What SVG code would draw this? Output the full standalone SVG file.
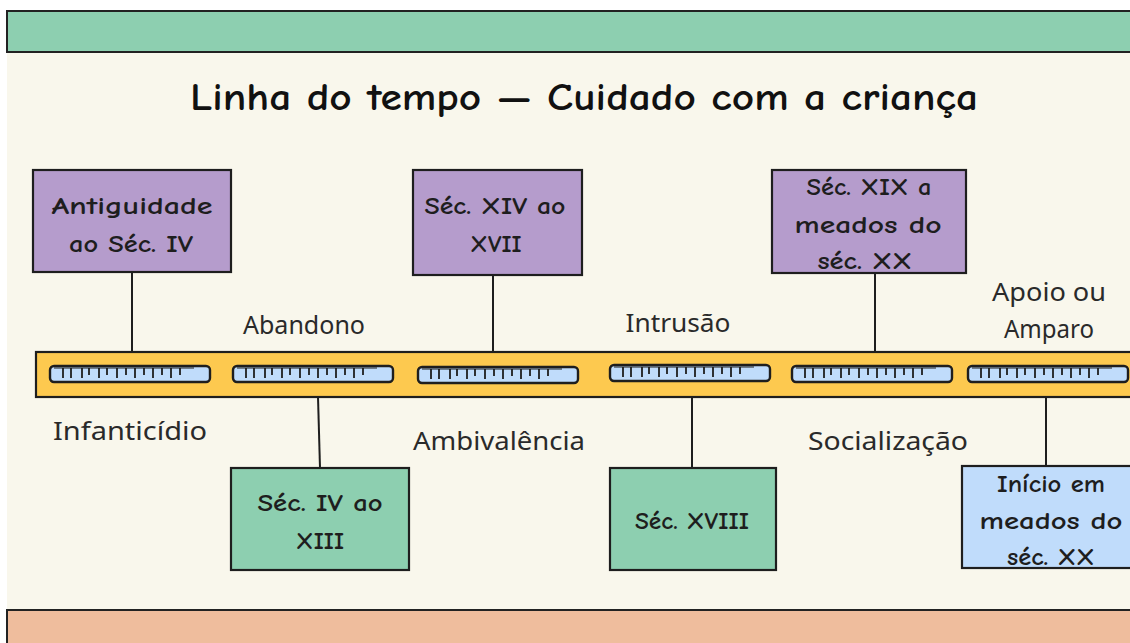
<svg xmlns="http://www.w3.org/2000/svg" xmlns:xlink="http://www.w3.org/1999/xlink" width="1130" height="643" viewBox="0 0 1130 643">
<style>
.node rect{stroke:#1e1e1e;stroke-width:2.2}
.purple{fill:#b59ccc}
.green{fill:#8dcfb0}
.blue{fill:#c0dcfb}
.hand{font-family:"Comic Neue","Lato","Noto Sans",sans-serif;font-size:25px;fill:#1e1e1e;text-anchor:middle;dominant-baseline:central;font-weight:600}
.lbl{font-family:"Noto Sans","Open Sans",sans-serif;font-size:25px;fill:#2a2a2a;text-anchor:middle;dominant-baseline:central}
#connectors line{stroke:#1e1e1e;stroke-width:2}
</style>
<defs>
<symbol id="ruler" viewBox="0 0 162 18" width="162" height="18" overflow="visible">
<rect x="1" y="1" width="160" height="16" rx="4" fill="#c0dcfb" stroke="#1e1e1e" stroke-width="2.4"/>
<path d="M14 3v10M22 3v10M33 3v10M40 3v7M50 3v10M58 3v7M68 3v10M77 3v7M86 3v10M95 3v7M104 3v10M113 3v7M122 3v10M131 3v7" stroke="#1e1e1e" stroke-width="1.8" fill="none"/>
<line x1="5" y1="3" x2="145" y2="3" stroke="#1e1e1e" stroke-width="1.2"/>
</symbol>
</defs>
<rect x="0" y="0" width="1130" height="643" fill="#ffffff"/>
<rect x="7" y="52" width="1130" height="558" fill="#f9f7ec"/>
<rect id="topbar" x="7" y="11" width="1130" height="41" fill="#8dcfb0" stroke="#222" stroke-width="2"/>
<rect id="bottombar" x="7" y="610" width="1130" height="40" fill="#efbd9d" stroke="#222" stroke-width="2"/>
<text id="title" x="584" y="98" font-family="'Comic Neue','Lato','Noto Sans',sans-serif" font-size="38" font-weight="700" fill="#111" text-anchor="middle" dominant-baseline="central" textLength="788" lengthAdjust="spacingAndGlyphs">Linha do tempo — Cuidado com a criança</text>
<g id="connectors">
<line x1="132" y1="272" x2="132" y2="352"/>
<line x1="493" y1="275" x2="493" y2="352"/>
<line x1="875" y1="273" x2="875" y2="352"/>
<line x1="318" y1="397" x2="320" y2="468"/>
<line x1="692" y1="395" x2="692" y2="468"/>
<line x1="1046" y1="397" x2="1046" y2="484"/>
</g>
<g id="timeline">
<rect x="36" y="352" width="1110" height="45" fill="#fdc94f" stroke="#1e1e1e" stroke-width="2.2"/>
<use href="#ruler" x="49" y="365"/>
<use href="#ruler" x="232" y="365"/>
<use href="#ruler" x="417" y="366"/>
<use href="#ruler" x="609" y="364"/>
<use href="#ruler" x="791" y="365"/>
<use href="#ruler" x="967" y="365"/>
</g>
<g id="n1" class="node"><rect class="purple" x="33" y="170" width="198" height="102"/><text class="hand" x="132" y="205" textLength="161" lengthAdjust="spacingAndGlyphs">Antiguidade</text><text class="hand" x="131" y="243" textLength="124" lengthAdjust="spacingAndGlyphs">ao Séc. IV</text></g>
<g id="n2" class="node"><rect class="purple" x="413" y="170" width="169" height="105"/><text class="hand" x="495" y="205" textLength="141" lengthAdjust="spacingAndGlyphs">Séc. XIV ao</text><text class="hand" x="496" y="243">XVII</text></g>
<g id="n3" class="node"><rect class="purple" x="772" y="170" width="194" height="103"/><text class="hand" x="869" y="186" textLength="125" lengthAdjust="spacingAndGlyphs">Séc. XIX a</text><text class="hand" x="868" y="224" textLength="147" lengthAdjust="spacingAndGlyphs">meados do</text><text class="hand" x="865" y="260" textLength="95" lengthAdjust="spacingAndGlyphs">séc. XX</text></g>
<g id="n4" class="node"><rect class="green" x="231" y="468" width="178" height="102"/><text class="hand" x="320" y="502" textLength="125" lengthAdjust="spacingAndGlyphs">Séc. IV ao</text><text class="hand" x="320" y="540">XIII</text></g>
<g id="n5" class="node"><rect class="green" x="610" y="468" width="166" height="102"/><text class="hand" x="692" y="520" textLength="114" lengthAdjust="spacingAndGlyphs">Séc. XVIII</text></g>
<g id="n6" class="node"><rect class="blue" x="962" y="466" width="180" height="102"/><text class="hand" x="1051" y="483" textLength="108" lengthAdjust="spacingAndGlyphs">Início em</text><text class="hand" x="1051" y="520" textLength="143" lengthAdjust="spacingAndGlyphs">meados do</text><text class="hand" x="1051" y="556" textLength="88" lengthAdjust="spacingAndGlyphs">séc. XX</text></g>
<g id="labels">
<text class="lbl" x="304" y="324" textLength="122" lengthAdjust="spacingAndGlyphs">Abandono</text>
<text class="lbl" x="678" y="322" textLength="105" lengthAdjust="spacingAndGlyphs">Intrusão</text>
<text class="lbl" x="1049" y="291" textLength="114" lengthAdjust="spacingAndGlyphs">Apoio ou</text>
<text class="lbl" x="1049" y="328" textLength="90" lengthAdjust="spacingAndGlyphs">Amparo</text>
<text class="lbl" x="130" y="430" textLength="154" lengthAdjust="spacingAndGlyphs">Infanticídio</text>
<text class="lbl" x="499" y="440" textLength="172" lengthAdjust="spacingAndGlyphs">Ambivalência</text>
<text class="lbl" x="888" y="440" textLength="160" lengthAdjust="spacingAndGlyphs">Socialização</text>
</g>
</svg>
